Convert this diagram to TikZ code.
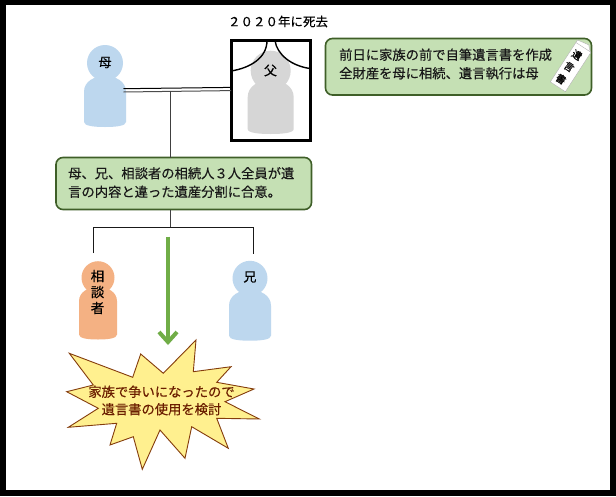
\documentclass[tikz,border=0pt]{standalone}
\usepackage{fontspec}
\setmainfont[FakeBold=0.35]{Noto Sans CJK JP}
\usetikzlibrary{arrows.meta}
\definecolor{boxfill}{HTML}{C5E0B4}
\definecolor{boxline}{HTML}{3F5F28}
\definecolor{blueman}{HTML}{BDD7EE}
\definecolor{greyman}{HTML}{D6D6D6}
\definecolor{orangeman}{HTML}{F4B183}
\definecolor{arrowgreen}{HTML}{70AD47}
\definecolor{starfill}{HTML}{FFF08F}
\definecolor{starline}{HTML}{843C0C}
\definecolor{startext}{HTML}{6B1E00}
\newcommand{\person}[7]{% cx, head y, head r, half width, body top, body bottom, colour
  \fill[#7] (#1-#4,#6-5) -- (#1-#4,#5+#4*0.75)
    .. controls (#1-#4,#5+#4*0.25) and (#1-#4*0.5,#5) .. (#1,#5)
    .. controls (#1+#4*0.5,#5) and (#1+#4,#5+#4*0.25) .. (#1+#4,#5+#4*0.75)
    -- (#1+#4,#6-5)
    .. controls (#1+#4,#6-1) and (#1+#4*0.5,#6) .. (#1,#6)
    .. controls (#1-#4*0.5,#6) and (#1-#4,#6-1) .. (#1-#4,#6-5) -- cycle;
  \fill[#7] (#1,#2) circle[radius=#3];
}
\tikzset{
  infobox/.style={draw=boxline,line width=1.6pt,fill=boxfill,rounded corners=7pt,inner sep=0pt},
  boxtext/.style={font=\fontsize{13.3pt}{18.5pt}\selectfont,align=left,inner sep=0pt,text=black!90},
  link/.style={draw=black!90,line width=0.9pt},
  namelabel/.style={font=\fontsize{13pt}{16pt}\selectfont,inner sep=0pt,text=black},
}
\begin{document}
\begin{tikzpicture}[x=1pt,y=-1pt]
\useasboundingbox (0,0) rectangle (616,496);
\fill[black] (0,0) rectangle (616,496);
\fill[white] (5.5,4.5) rectangle (609.5,490);

% title
\node[font=\fontsize{12.5pt}{15pt}\selectfont,inner sep=0pt] (title) at (278,21.5) {２０２０年に死去};

% people
\person{105}{63}{18}{21}{76}{127}{blueman}
\node[namelabel] (mother) at (105,62.5) {母};
\person{270.7}{70.7}{20}{23}{80}{134}{greyman}
\node[namelabel] (father) at (270.5,70.5) {父};
\person{98}{277.7}{16.5}{19}{287}{339.5}{orangeman}
\node[namelabel,align=center,font=\fontsize{13.5pt}{16pt}\selectfont] (soudan) at (97.5,292) {相\\談\\者};
\person{250}{278.3}{17.5}{21}{290}{340.7}{blueman}
\node[namelabel] (ani) at (250,277) {兄};

% father's frame
\draw[line width=3pt] (231,40.5) rectangle (310,140);
\draw[line width=1.4pt] (231,71) .. controls (250,68) and (267,58) .. (267,40.5);
\draw[line width=1.4pt] (275,40.5) .. controls (277,55) and (292,66) .. (310,68.5);

% double line mother - father
\coordinate (mR) at (123.5,88.7);
\coordinate (fL) at (231,87.4);
\coordinate (mR2) at (123.5,92);
\coordinate (fL2) at (231,90.6);
\draw[line width=1pt,black] (mR) -- (fL);
\draw[line width=1pt,black!70] (mR2) -- (fL2);

% boxes
\path[infobox] (325.5,38.5) rectangle (591.5,95);
\node[boxtext,anchor=west] (will) at (339,64) {前日に家族の前で自筆遺言書を作成\\全財産を母に相続、遺言執行は母};
\path[infobox] (56,157.5) rectangle (311.5,209.5);
\node[boxtext,anchor=west] (agree) at (68,182.5) {母、兄、相談者の相続人３人全員が遺\\言の内容と違った遺産分割に合意。};

% scroll
\begin{scope}[shift={(572,65)},rotate=-33]
  \fill[white,draw=black!30,line width=0.4pt] (-9,-24) -- (3,-26) -- (9,-20) -- (9,26) -- (-9,26) -- cycle;
  \draw[black!30,line width=0.4pt] (-9,-21) -- (9,-21);
\end{scope}
\node[font=\fontsize{10pt}{10pt}\selectfont,inner sep=0pt] (scrollA) at (577,55) {\rotatebox{-33}{遺}};
\node[font=\fontsize{10pt}{10pt}\selectfont,inner sep=0pt] (scrollB) at (569,67) {\rotatebox{-33}{言}};
\node[font=\fontsize{10pt}{10pt}\selectfont,inner sep=0pt] (scrollC) at (561,79) {\rotatebox{-33}{書}};

% connectors
\coordinate (t1) at (170.7,91);
\coordinate (t2) at (170.7,157.5);
\draw[link,black!75] (t1) -- (t2);
\coordinate (j0) at (170,209.5);
\coordinate (j) at (170,227.3);
\coordinate (jl) at (93.3,253);
\coordinate (jr) at (253.5,253.5);
\draw[link,black!75] (j0) -- (j);
\draw[link] (jl) |- (j) -| (jr);

% green arrow
\coordinate (a1) at (168,236.5);
\coordinate (a2) at (168,345);
\draw[arrowgreen,line width=4pt,-{Straight Barb[length=10pt,width=18pt,line width=4pt]}] (a1) -- (a2);

% star
\draw[starline,fill=starfill,line width=0.9pt,line join=miter]
 (196,340) -- (163.3,373.3) -- (140.7,354) -- (132.7,377.3) -- (69.3,353.3) -- (93.3,385)
 -- (66.7,391.7) -- (98.3,408.3) -- (68.3,427.3) -- (116.7,423.3) -- (110,445) -- (133.3,436.7)
 -- (142.3,469.3) -- (160,430) -- (185,458.3) -- (191.7,426.7) -- (228.3,448.3) -- (216.7,418.3)
 -- (259.3,419) -- (225,401.7) -- (254,389) -- (216.7,382.3) -- (231,366.7) -- (193.3,371.7) -- cycle;
\node[font=\fontsize{13.3pt}{17.5pt}\selectfont,align=center,inner sep=0pt,text=startext] (startxt) at (161.5,400.5) {家族で争いになったので\\遺言書の使用を検討};
\end{tikzpicture}
\end{document}
